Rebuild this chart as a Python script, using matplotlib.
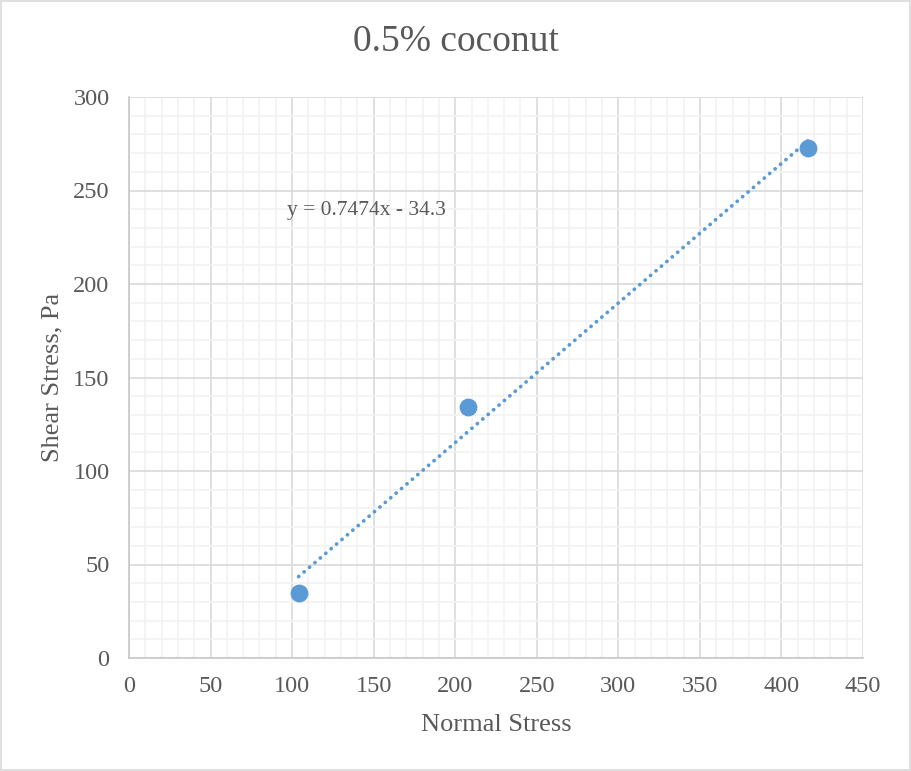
import numpy as np
import matplotlib
matplotlib.use('Agg')
import matplotlib.pyplot as plt
from matplotlib.patches import Rectangle
from matplotlib.ticker import MultipleLocator

# ------------------------------------------------------------------------
# Data

normal_stress = [104, 208, 416.5]
shear_stress = [35, 134, 272.5]
eq_label = 'y = 0.7474x - 34.3'
title = '0.5% coconut'

# ------------------------------------------------------------------------
# Style

plt.rcParams['font.family'] = ['Liberation Serif', 'DejaVu Serif']
txt = '#595959'
blue = '#5B9BD5'

fig = plt.figure(figsize=(9.11, 7.71), dpi=100)
ax = fig.add_axes([129/911, 1 - 658/771, (863 - 129)/911, (658 - 97)/771])

# chart border
fig.patches.append(Rectangle((0.001, 0.001), 0.998, 0.998, transform=fig.transFigure,
                             fill=False, edgecolor='#D9D9D9', linewidth=1.2))

ax.scatter(normal_stress, shear_stress, s=165, color=blue, zorder=4, linewidths=0)

# linear trendline
m, b = np.polyfit(normal_stress, shear_stress, 1)
xt = np.array([min(normal_stress), max(normal_stress)])
ax.plot(xt, m*xt + b, linestyle=(0, (0.05, 1.85)), dash_capstyle='round',
        solid_capstyle='round', color=blue, linewidth=2.7, zorder=3)

ax.text(97, 239.5, eq_label, fontsize=15.5, color=txt, ha='left', va='center')

ax.set_xlim(0, 450)
ax.set_ylim(0, 300)
ax.xaxis.set_major_locator(MultipleLocator(50))
ax.yaxis.set_major_locator(MultipleLocator(50))
ax.xaxis.set_minor_locator(MultipleLocator(10))
ax.yaxis.set_minor_locator(MultipleLocator(10))
ax.grid(which='minor', color='#F2F2F2', linewidth=1.2, zorder=0)
ax.grid(which='major', color='#D9D9D9', linewidth=1.2, zorder=1)
ax.set_axisbelow(True)
ax.tick_params(which='both', length=0, labelsize=17.5, labelcolor=txt)
ax.tick_params(axis='y', pad=14)
ax.tick_params(axis='x', pad=13)
for s in ax.spines.values():
    s.set_visible(False)
for side in ('bottom', 'left'):
    ax.spines[side].set_visible(True)
    ax.spines[side].set_color('#C8C8C8')
    ax.spines[side].set_linewidth(1.2)

ax.set_xlabel('Normal Stress', fontsize=19, color=txt, labelpad=12)
ax.set_ylabel('Shear Stress, Pa', fontsize=19, color=txt, labelpad=7)
fig.text(0.5, 1 - 42/771, title, fontsize=27, color=txt,
         ha='center', va='center')

fig.savefig('out.png', dpi=100)
